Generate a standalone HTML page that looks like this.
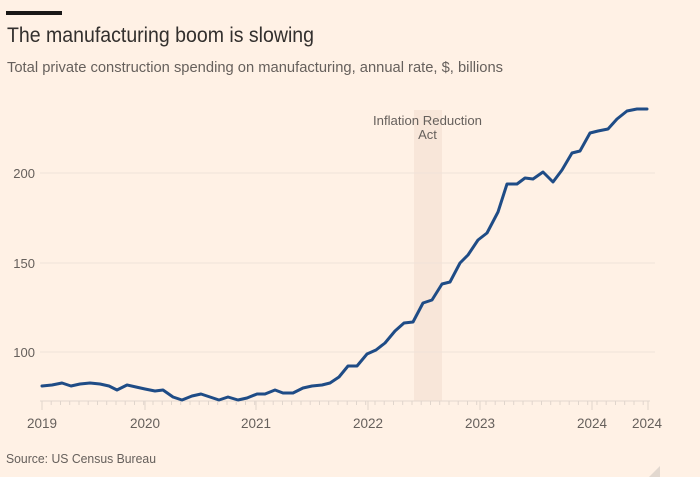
<!DOCTYPE html>
<html>
<head>
<meta charset="utf-8">
<style>
  html,body{margin:0;padding:0;background:#fff1e5;}
  body{width:700px;height:477px;overflow:hidden;}
  svg{display:block;}
  text{font-family:"Liberation Sans", sans-serif;}
</style>
</head>
<body>
<svg width="700" height="477" viewBox="0 0 700 477" xmlns="http://www.w3.org/2000/svg">
  <rect x="0" y="0" width="700" height="477" fill="#fff1e5"/>
  <!-- top bar -->
  <rect x="6" y="11" width="56" height="4" fill="#1a1817"/>
  <!-- title -->
  <text x="7" y="42" font-size="21" fill="#33302e" textLength="307" lengthAdjust="spacingAndGlyphs">The manufacturing boom is slowing</text>
  <text x="7" y="72" font-size="15" fill="#66605c" textLength="496" lengthAdjust="spacingAndGlyphs">Total private construction spending on manufacturing, annual rate, $, billions</text>

  <!-- IRA band -->
  <rect x="414" y="110" width="28" height="291" fill="#f8e6d9"/>
  <text x="427.5" y="125" font-size="13" fill="#66605c" text-anchor="middle" textLength="109" lengthAdjust="spacingAndGlyphs">Inflation Reduction</text>
  <text x="427.5" y="139" font-size="13" fill="#66605c" text-anchor="middle">Act</text>

  <!-- gridlines -->
  <g stroke="#efe3d9" stroke-width="1">
    <line x1="40" y1="173" x2="655" y2="173"/>
    <line x1="40" y1="263" x2="655" y2="263"/>
    <line x1="40" y1="352" x2="655" y2="352"/>
  </g>
  <g font-size="13" fill="#66605c" text-anchor="end">
    <text x="35" y="178">200</text>
    <text x="35" y="268">150</text>
    <text x="35" y="357">100</text>
  </g>

  <!-- x axis -->
  <line x1="40" y1="401" x2="650" y2="401" stroke="#e3d8cf" stroke-width="1"/>
  <g stroke="#e0d5cc" stroke-width="1">
    <line x1="42" y1="401" x2="42" y2="405"/><line x1="51.2" y1="401" x2="51.2" y2="405"/><line x1="60.5" y1="401" x2="60.5" y2="405"/><line x1="69.7" y1="401" x2="69.7" y2="405"/><line x1="79" y1="401" x2="79" y2="405"/><line x1="88.2" y1="401" x2="88.2" y2="405"/><line x1="97.5" y1="401" x2="97.5" y2="405"/><line x1="106.7" y1="401" x2="106.7" y2="405"/><line x1="116" y1="401" x2="116" y2="405"/><line x1="125.2" y1="401" x2="125.2" y2="405"/><line x1="134.5" y1="401" x2="134.5" y2="405"/><line x1="143.7" y1="401" x2="143.7" y2="405"/><line x1="153" y1="401" x2="153" y2="405"/><line x1="162.2" y1="401" x2="162.2" y2="405"/><line x1="171.5" y1="401" x2="171.5" y2="405"/><line x1="180.7" y1="401" x2="180.7" y2="405"/><line x1="190" y1="401" x2="190" y2="405"/><line x1="199.2" y1="401" x2="199.2" y2="405"/><line x1="208.5" y1="401" x2="208.5" y2="405"/><line x1="217.7" y1="401" x2="217.7" y2="405"/><line x1="227" y1="401" x2="227" y2="405"/><line x1="236.2" y1="401" x2="236.2" y2="405"/><line x1="245.5" y1="401" x2="245.5" y2="405"/><line x1="254.7" y1="401" x2="254.7" y2="405"/><line x1="264" y1="401" x2="264" y2="405"/><line x1="273.2" y1="401" x2="273.2" y2="405"/><line x1="282.5" y1="401" x2="282.5" y2="405"/><line x1="291.7" y1="401" x2="291.7" y2="405"/><line x1="301" y1="401" x2="301" y2="405"/><line x1="310.2" y1="401" x2="310.2" y2="405"/><line x1="319.5" y1="401" x2="319.5" y2="405"/><line x1="328.7" y1="401" x2="328.7" y2="405"/><line x1="338" y1="401" x2="338" y2="405"/><line x1="347.2" y1="401" x2="347.2" y2="405"/><line x1="356.5" y1="401" x2="356.5" y2="405"/><line x1="365.7" y1="401" x2="365.7" y2="405"/><line x1="375" y1="401" x2="375" y2="405"/><line x1="384.2" y1="401" x2="384.2" y2="405"/><line x1="393.5" y1="401" x2="393.5" y2="405"/><line x1="402.7" y1="401" x2="402.7" y2="405"/><line x1="412" y1="401" x2="412" y2="405"/><line x1="421.2" y1="401" x2="421.2" y2="405"/><line x1="430.5" y1="401" x2="430.5" y2="405"/><line x1="439.7" y1="401" x2="439.7" y2="405"/><line x1="449" y1="401" x2="449" y2="405"/><line x1="458.2" y1="401" x2="458.2" y2="405"/><line x1="467.5" y1="401" x2="467.5" y2="405"/><line x1="476.7" y1="401" x2="476.7" y2="405"/><line x1="486" y1="401" x2="486" y2="405"/><line x1="495.2" y1="401" x2="495.2" y2="405"/><line x1="504.5" y1="401" x2="504.5" y2="405"/><line x1="513.7" y1="401" x2="513.7" y2="405"/><line x1="523" y1="401" x2="523" y2="405"/><line x1="532.2" y1="401" x2="532.2" y2="405"/><line x1="541.5" y1="401" x2="541.5" y2="405"/><line x1="550.7" y1="401" x2="550.7" y2="405"/><line x1="560" y1="401" x2="560" y2="405"/><line x1="569.2" y1="401" x2="569.2" y2="405"/><line x1="578.5" y1="401" x2="578.5" y2="405"/><line x1="587.7" y1="401" x2="587.7" y2="405"/><line x1="597" y1="401" x2="597" y2="405"/><line x1="606.2" y1="401" x2="606.2" y2="405"/><line x1="615.5" y1="401" x2="615.5" y2="405"/><line x1="624.7" y1="401" x2="624.7" y2="405"/><line x1="634" y1="401" x2="634" y2="405"/><line x1="643.2" y1="401" x2="643.2" y2="405"/>
    <line x1="42" y1="401" x2="42" y2="410"/>
    <line x1="145" y1="401" x2="145" y2="410"/>
    <line x1="256" y1="401" x2="256" y2="410"/>
    <line x1="368" y1="401" x2="368" y2="410"/>
    <line x1="480" y1="401" x2="480" y2="410"/>
    <line x1="592" y1="401" x2="592" y2="410"/>
    <line x1="648" y1="401" x2="648" y2="410"/>
  </g>
  <g font-size="13.5" fill="#66605c" text-anchor="middle">
    <text x="42" y="428">2019</text>
    <text x="145" y="428">2020</text>
    <text x="256" y="428">2021</text>
    <text x="368" y="428">2022</text>
    <text x="480" y="428">2023</text>
    <text x="592" y="428">2024</text>
    <text x="647" y="428">2024</text>
  </g>

  <!-- series -->
  <polyline fill="none" stroke="#1f4c86" stroke-width="3" stroke-linejoin="round" stroke-linecap="round"
    points="42,386 52,385 62,383 71,386 80,384 90,383 100,384 109,386 117,390 127,385 136,387 145,389 155,391 163,390 173,397 182,400 192,396 201,394 210,397 219,400 228,397 238,400 247,398 257,394 265,394 275,390 283,393 293,393 303,388 312,386 322,385 330,383 339,377 348,366 357,366 367,354 376,350 385,343 395,331 404,323 413,322 423,303 432,300 442,284 450,282 460,263 468,255 478,240 487,233 498,212 507,184 517,184 525,178 533,179 543,172 553,182 562,170 572,153 580,151 590,133 598,131 608,129 617,119 627,111 637,109 647,109"/>

  <!-- source -->
  <text x="6" y="463" font-size="13" fill="#66605c" textLength="150" lengthAdjust="spacingAndGlyphs">Source: US Census Bureau</text>

  <!-- corner artifact -->
  <polygon points="660,466 660,477 649,477" fill="#e2d8cf"/>
</svg>
</body>
</html>
